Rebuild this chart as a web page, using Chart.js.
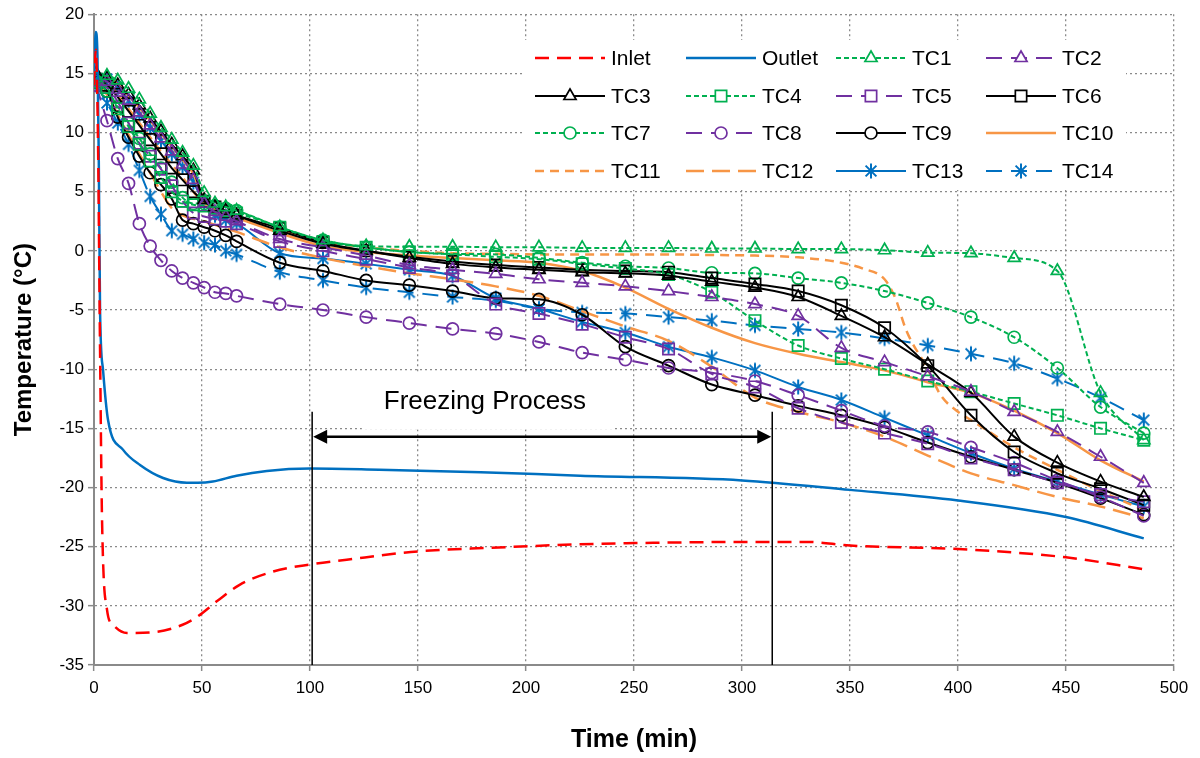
<!DOCTYPE html>
<html>
<head>
<meta charset="utf-8">
<script src="https://cdn.jsdelivr.net/npm/chart.js@4.4.1/dist/chart.umd.min.js"></script>
<style>
  html, body { margin: 0; padding: 0; background: #ffffff; }
  #wrap { width: 1200px; height: 758px; }
</style>
</head>
<body>
<div id="wrap"><canvas id="c" width="1200" height="758"></canvas></div>
<script>
// ---- thermocouple sampling times (min) ----
const markTimes = [1, 6, 11, 16, 21, 26, 31, 36, 41, 46, 51, 56, 61, 66,
  86, 106, 126, 146, 166, 186, 206, 226, 246, 266, 286, 306, 326, 346, 366, 386, 406, 426, 446, 466, 486];

// ---- coolant inlet / outlet (°C) ----
const inletTimes  = [0, 0.8, 1.8, 2.8, 3.7, 6, 8.8, 15.3, 29, 41, 48, 57, 67.6, 83, 100, 117, 150, 183, 225, 250, 300, 330, 350, 400, 450, 486];
const inletTemps  = [14, 17, 10, -8.4, -22.5, -30.3, -31.6, -32.3, -32.2, -31.6, -30.9, -29.6, -28.2, -27.1, -26.5, -26.1, -25.4, -25.1, -24.8, -24.7, -24.6, -24.6, -24.9, -25.2, -25.9, -26.9];
const outletTimes = [0, 0.8, 1.6, 2.2, 2.8, 4.2, 6.5, 13.4, 21.3, 32, 43, 48, 55, 66, 80, 100, 132, 179, 225, 300, 350, 400, 450, 486];
const outletTemps = [14, 18.5, 16.5, 8, -5, -10.1, -14.3, -16.8, -18.1, -19.2, -19.6, -19.6, -19.5, -19.0, -18.6, -18.4, -18.5, -18.7, -19.0, -19.4, -20.2, -21.1, -22.5, -24.3];

// ---- thermocouple readings (°C) at markTimes ----
const tc1  = [14.6, 14.8, 14.4, 13.7, 12.8, 11.6, 10.4, 9.4, 8.3, 7.2, 4.9, 4.0, 3.7, 3.4,
  2.0, 0.9, 0.4, 0.35, 0.35, 0.3, 0.3, 0.25, 0.25, 0.25, 0.2, 0.2, 0.15, 0.15, 0.05, -0.15, -0.2, -0.6, -1.7, -12.0, -16.0];
const tc2  = [14.6, 14.3, 13.6, 12.7, 11.7, 10.6, 9.5, 8.4, 7.3, 6.0, 4.0, 3.3, 2.9, 2.5,
  1.0, 0.3, -0.4, -1.2, -1.6, -1.95, -2.4, -2.7, -3.0, -3.4, -3.9, -4.5, -5.5, -8.2, -9.4, -10.6, -11.9, -13.6, -15.3, -17.4, -19.6];
const tc3  = [15.0, 14.6, 14.0, 13.2, 12.3, 11.2, 10.1, 9.0, 8.0, 6.8, 4.3, 3.7, 3.4, 3.0,
  1.7, 0.6, 0.0, -0.6, -1.1, -1.4, -1.6, -1.8, -1.9, -2.1, -2.6, -3.1, -3.9, -5.5, -7.3, -9.6, -12.0, -15.7, -17.9, -19.5, -20.8];
const tc4  = [14.5, 13.8, 12.0, 10.5, 9.0, 7.6, 6.2, 5.0, 4.2, 3.9, 3.8, 3.6, 3.4, 3.2,
  2.0, 0.8, 0.3, -0.1, -0.3, -0.5, -0.7, -1.1, -1.5, -2.0, -3.5, -5.9, -8.0, -9.1, -10.0, -11.0, -11.9, -12.9, -13.9, -15.0, -16.0];
const tc5  = [14.4, 13.8, 12.6, 10.8, 9.1, 8.0, 6.9, 5.5, 4.2, 3.2, 2.9, 2.7, 2.5, 2.3,
  0.8, 0.0, -0.7, -1.4, -2.1, -4.5, -5.3, -6.2, -7.3, -8.3, -10.4, -11.5, -13.3, -14.5, -15.4, -16.3, -17.5, -18.5, -19.6, -20.6, -21.2];
const tc6  = [14.5, 14.0, 13.0, 11.8, 10.6, 9.4, 8.2, 7.0, 6.0, 5.0, 4.2, 3.7, 3.3, 3.0,
  1.9, 0.7, 0.0, -0.5, -0.9, -1.2, -1.4, -1.6, -1.7, -1.8, -2.3, -2.8, -3.4, -4.6, -6.5, -9.7, -13.9, -17.0, -18.8, -20.1, -21.5];
const tc7  = [14.3, 13.5, 12.2, 10.8, 9.5, 8.2, 7.0, 5.8, 4.5, 4.0, 4.0, 3.8, 3.6, 3.4,
  2.0, 0.9, 0.3, -0.1, -0.25, -0.3, -0.6, -1.0, -1.3, -1.45, -1.85, -1.9, -2.3, -2.7, -3.4, -4.4, -5.6, -7.3, -9.9, -13.2, -15.4];
const tc8  = [14.0, 11.0, 7.8, 5.7, 2.3, 0.4, -0.8, -1.7, -2.3, -2.7, -3.1, -3.5, -3.6, -3.8,
  -4.5, -5.0, -5.6, -6.1, -6.6, -7.0, -7.7, -8.6, -9.2, -9.9, -10.3, -11.0, -12.2, -13.5, -14.8, -15.3, -16.6, -17.9, -19.4, -20.8, -22.4];
const tc9  = [14.3, 13.5, 11.3, 9.6, 8.0, 6.6, 5.6, 4.4, 2.6, 2.3, 2.0, 1.7, 1.3, 0.8,
  -1.0, -1.7, -2.5, -2.9, -3.4, -4.0, -4.1, -5.4, -8.1, -9.7, -11.3, -12.2, -13.1, -13.9, -14.9, -16.2, -17.4, -18.5, -19.6, -20.9, -22.3];
const tc10 = [14.8, 14.7, 14.1, 13.1, 12.1, 11.0, 9.9, 8.8, 7.7, 6.5, 4.3, 3.5, 3.1, 2.8,
  1.5, 0.4, -0.1, -0.4, -0.6, -0.8, -1.0, -1.7, -3.1, -4.9, -6.5, -7.8, -8.7, -9.4, -10.1, -11.1, -12.0, -13.5, -15.4, -17.7, -19.5];
const tc11Times = [1, 6, 11, 16, 21, 26, 31, 36, 41, 46, 51, 56, 61, 66,
  86, 106, 126, 146, 166, 186, 206, 226, 246, 266, 286, 306, 326, 346, 356, 366, 371, 376, 386, 392, 400, 406, 426, 446, 466, 486];
const tc11 = [14.5, 14.3, 13.2, 12.0, 10.8, 9.6, 8.4, 7.3, 6.2, 5.0, 4.0, 3.5, 3.2, 2.9,
  1.8, 0.8, 0.3, 0.0, -0.2, -0.25, -0.3, -0.3, -0.3, -0.3, -0.35, -0.4, -0.55, -1.0, -1.5, -2.4, -4.0, -6.7, -10.0, -12.2, -13.6, -14.3, -16.6, -18.5, -20.3, -21.9];
const tc12 = [14.3, 13.2, 11.5, 9.8, 8.2, 6.6, 5.0, 3.6, 3.0, 2.7, 2.5, 2.2, 1.9, 1.6,
  0.3, -0.6, -1.3, -1.9, -2.4, -3.0, -3.8, -5.1, -6.4, -7.6, -9.8, -12.4, -13.6, -14.5, -15.7, -17.3, -18.8, -19.8, -20.8, -21.6, -22.6];
const tc13 = [14.5, 14.5, 13.8, 12.7, 11.5, 10.4, 9.3, 8.2, 7.1, 5.8, 4.0, 3.0, 2.6, 2.3,
  -0.2, -0.65, -1.1, -1.6, -2.1, -4.0, -4.9, -6.0, -6.9, -8.1, -9.0, -10.1, -11.5, -12.6, -14.1, -15.6, -17.1, -18.4, -19.5, -20.6, -21.6];
const tc14 = [14.0, 12.5, 10.8, 9.0, 6.8, 4.6, 3.1, 1.7, 1.4, 1.0, 0.7, 0.5, 0.0, -0.3,
  -1.8, -2.5, -3.1, -3.5, -3.9, -4.2, -4.9, -5.2, -5.3, -5.6, -5.9, -6.3, -6.6, -6.9, -7.4, -8.0, -8.7, -9.5, -10.8, -12.4, -14.3];

// ---- axis ticks ----
const xTicks = [0, 50, 100, 150, 200, 250, 300, 350, 400, 450, 500];
const yTicks = [-35, -30, -25, -20, -15, -10, -5, 0, 5, 10, 15, 20];

// ---- freezing-process annotation (min, °C) ----
const freezeStart = 101;
const freezeEnd = 314;
const freezeLineTop = -13.6;
const freezeArrowY = -15.7;
const freezeLabel = 'Freezing Process';
const freezeLabelT = 181;
const freezeLabelY = -12.8;

const RED = '#ff0000', BLUE = '#0070c0', GREEN = '#00b050', PURPLE = '#7030a0', BLACK = '#000000', ORANGE = '#f79646';
const FONT = "'Liberation Sans', Arial, Helvetica, sans-serif";

function asteriskMarker(color) {
  const c = document.createElement('canvas');
  c.width = 18; c.height = 18;
  const g = c.getContext('2d');
  g.strokeStyle = color;
  g.lineWidth = 2;
  g.lineCap = 'butt';
  const m = 9, r = 7.5;
  g.beginPath();
  g.moveTo(m, m - r); g.lineTo(m, m + r);
  const d = r * 0.72;
  g.moveTo(m - d, m - d); g.lineTo(m + d, m + d);
  g.moveTo(m - d, m + d); g.lineTo(m + d, m - d);
  g.stroke();
  return c;
}

function pts(times, vals) { return times.map((t, i) => ({ x: t, y: vals[i] })); }

function series(label, times, vals, color, dash, style, radius, width) {
  return {
    label: label,
    data: pts(times, vals),
    borderColor: color,
    backgroundColor: 'rgba(0,0,0,0)',
    borderWidth: width || 2,
    borderDash: dash,
    pointStyle: style || 'circle',
    pointRadius: style ? radius : 0,
    pointBorderWidth: 1.7,
    pointBorderColor: color,
    pointBackgroundColor: 'rgba(0,0,0,0)',
    cubicInterpolationMode: 'monotone',
    fill: false
  };
}

const SHORT = [5, 3];
const LONG = [16, 9];
const astBlue = asteriskMarker(BLUE);

const datasets = [
  series('Inlet', inletTimes, inletTemps, RED, [14, 8], null, 0, 2.5),
  series('Outlet', outletTimes, outletTemps, BLUE, [], null, 0, 2.5),
  series('TC1', markTimes, tc1, GREEN, SHORT, 'triangle', 7),
  series('TC2', markTimes, tc2, PURPLE, LONG, 'triangle', 7),
  series('TC3', markTimes, tc3, BLACK, [], 'triangle', 7),
  series('TC4', markTimes, tc4, GREEN, SHORT, 'rect', 8),
  series('TC5', markTimes, tc5, PURPLE, LONG, 'rect', 8),
  series('TC6', markTimes, tc6, BLACK, [], 'rect', 8),
  series('TC7', markTimes, tc7, GREEN, SHORT, 'circle', 6),
  series('TC8', markTimes, tc8, PURPLE, LONG, 'circle', 6),
  series('TC9', markTimes, tc9, BLACK, [], 'circle', 6),
  series('TC10', markTimes, tc10, ORANGE, [], null, 0, 2.5),
  series('TC11', tc11Times, tc11, ORANGE, [9, 6], null, 0, 2.5),
  series('TC12', markTimes, tc12, ORANGE, [18, 8], null, 0, 2.5),
  series('TC13', markTimes, tc13, BLUE, [], astBlue, 9),
  series('TC14', markTimes, tc14, BLUE, LONG, astBlue, 9)
];

// White-backed legend drawn inside the plot area, 4 columns x 4 rows
const gridLegend = {
  id: 'gridLegend',
  beforeDatasetsDraw(chart) {
    const ctx = chart.ctx;
    const colX = [535, 686, 836, 986];
    const rowY = [58, 96, 133, 171];
    ctx.save();
    ctx.fillStyle = '#ffffff';
    ctx.fillRect(522, 40, 604, 150);
    ctx.font = '21px ' + FONT;
    ctx.textBaseline = 'middle';
    chart.data.datasets.forEach((ds, i) => {
      const x = colX[i % 4], y = rowY[Math.floor(i / 4)];
      ctx.save();
      ctx.strokeStyle = ds.borderColor;
      ctx.lineWidth = ds.borderWidth;
      ctx.setLineDash(ds.borderDash || []);
      ctx.beginPath();
      ctx.moveTo(x, y); ctx.lineTo(x + 70, y);
      ctx.stroke();
      ctx.setLineDash([]);
      if (ds.pointRadius > 0) {
        ctx.fillStyle = '#ffffff';
        ctx.strokeStyle = ds.borderColor;
        ctx.lineWidth = ds.pointBorderWidth;
        Chart.helpers.drawPoint(ctx, { pointStyle: ds.pointStyle, radius: ds.pointRadius, rotation: 0, borderWidth: ds.pointBorderWidth }, x + 35, y);
      }
      ctx.restore();
      ctx.fillStyle = '#000000';
      ctx.fillText(ds.label, x + 76, y + 1);
    });
    ctx.restore();
  }
};

// Freezing-process span: two vertical markers, a double arrow and its caption
const freezeNote = {
  id: 'freezeNote',
  beforeDatasetsDraw(chart) {
    const { ctx, scales: { x, y } } = chart;
    const bx0 = x.getPixelForValue(124), bx1 = x.getPixelForValue(240);
    const by0 = y.getPixelForValue(-10.3), by1 = y.getPixelForValue(-15.1);
    ctx.save();
    ctx.fillStyle = '#ffffff';
    ctx.fillRect(bx0, by0, bx1 - bx0, by1 - by0);
    ctx.restore();
  },
  afterDatasetsDraw(chart) {
    const { ctx, scales: { x, y } } = chart;
    const x0 = x.getPixelForValue(freezeStart), x1 = x.getPixelForValue(freezeEnd);
    const yTop = y.getPixelForValue(freezeLineTop), yBot = y.getPixelForValue(-35);
    const ya = y.getPixelForValue(freezeArrowY);
    ctx.save();
    ctx.strokeStyle = '#000000';
    ctx.fillStyle = '#000000';
    ctx.lineWidth = 1.5;
    ctx.beginPath();
    ctx.moveTo(x0, yTop); ctx.lineTo(x0, yBot);
    ctx.moveTo(x1, yTop); ctx.lineTo(x1, yBot);
    ctx.stroke();
    ctx.lineWidth = 2.5;
    const ah = 14, aw = 7;
    ctx.beginPath();
    ctx.moveTo(x0 + ah, ya); ctx.lineTo(x1 - ah, ya);
    ctx.stroke();
    ctx.beginPath();
    ctx.moveTo(x0 + 1, ya); ctx.lineTo(x0 + 1 + ah, ya - aw); ctx.lineTo(x0 + 1 + ah, ya + aw); ctx.closePath();
    ctx.moveTo(x1 - 1, ya); ctx.lineTo(x1 - 1 - ah, ya - aw); ctx.lineTo(x1 - 1 - ah, ya + aw); ctx.closePath();
    ctx.fill();
    ctx.font = '26px ' + FONT;
    ctx.textAlign = 'center';
    ctx.textBaseline = 'middle';
    ctx.fillText(freezeLabel, x.getPixelForValue(freezeLabelT), y.getPixelForValue(freezeLabelY));
    ctx.restore();
  }
};

const gridStyle = {
  color: '#8a8a8a',
  lineWidth: 1.3,
  drawTicks: true,
  tickLength: 6,
  tickColor: '#8a8a8a',
  tickWidth: 1.5,
  tickBorderDash: []
};

new Chart(document.getElementById('c'), {
  type: 'line',
  data: { datasets: datasets },
  options: {
    responsive: false,
    animation: false,
    events: [],
    layout: { padding: { top: 12, right: 26, left: 0, bottom: 0 } },
    plugins: { legend: { display: false }, tooltip: { enabled: false } },
    scales: {
      x: {
        type: 'linear',
        min: 0, max: 500,
        afterBuildTicks(s) { s.ticks = xTicks.map(v => ({ value: v })); },
        afterFit(s) { s.height = 93; },
        grid: gridStyle,
        border: { display: true, color: '#8a8a8a', width: 2, dash: [2, 3] },
        ticks: { color: '#000000', font: { family: FONT, size: 17 }, padding: 7, maxRotation: 0 },
        title: { display: true, text: 'Time (min)', color: '#000000', font: { family: FONT, size: 25, weight: 'bold' }, padding: { top: 0, bottom: 3 } }
      },
      y: {
        type: 'linear',
        min: -35, max: 20,
        afterBuildTicks(s) { s.ticks = yTicks.map(v => ({ value: v })); },
        afterFit(s) { s.width = 94; },
        grid: gridStyle,
        border: { display: true, color: '#8a8a8a', width: 2, dash: [2, 3] },
        ticks: { color: '#000000', font: { family: FONT, size: 17 }, padding: 4 },
        title: { display: true, text: 'Temperature (°C)', color: '#000000', font: { family: FONT, size: 24, weight: 'bold' }, padding: { top: 10, bottom: 0 } }
      }
    }
  },
  plugins: [gridLegend, freezeNote]
});
</script>
</body>
</html>
